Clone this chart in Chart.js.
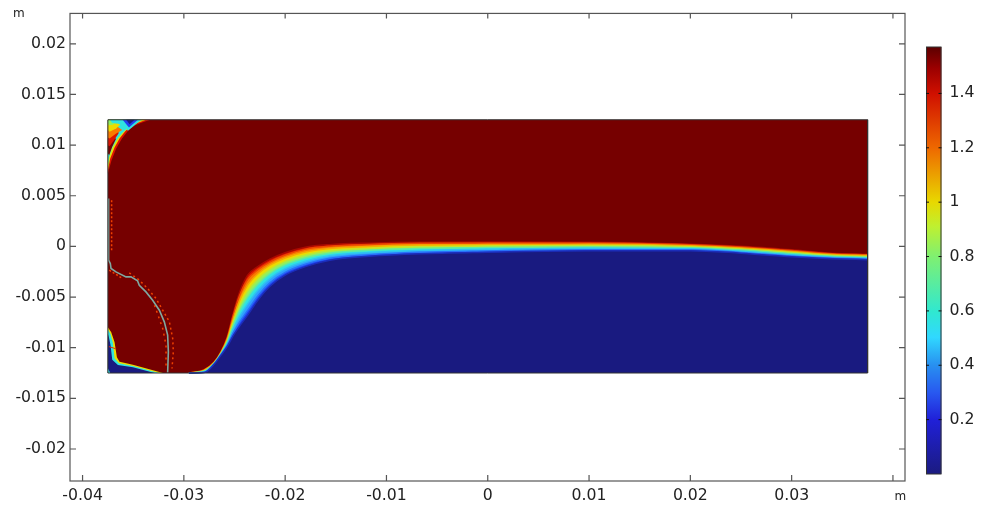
<!DOCTYPE html>
<html>
<head>
<meta charset="utf-8">
<script src="https://cdn.jsdelivr.net/npm/chart.js@4/dist/chart.umd.min.js"></script>
<style>
body { margin: 0; background: #fff; }
canvas { position: absolute; top: 0; }
</style>
</head>
<body>
<canvas id="field" width="991" height="505" style="left:0"></canvas>
<canvas id="bar" width="65" height="505" style="left:926px"></canvas>
<script>
// tick labels
const xTicks = [-0.04, -0.03, -0.02, -0.01, 0, 0.01, 0.02, 0.03, 0.04];
const xTickLabels = ['-0.04', '-0.03', '-0.02', '-0.01', '0', '0.01', '0.02', '0.03', ''];
const yTicks = [0.02, 0.015, 0.01, 0.005, 0, -0.005, -0.01, -0.015, -0.02];
const yTickLabels = ['0.02', '0.015', '0.01', '0.005', '0', '-0.005', '-0.01', '-0.015', '-0.02'];
const barTicks = [1.4, 1.2, 1, 0.8, 0.6, 0.4, 0.2];
const barTickLabels = ['1.4', '1.2', '1', '0.8', '0.6', '0.4', '0.2'];
const barMax = 1.5708;

// everything below is in mm
const domainX = [-37.5, 37.5, 37.5, -37.5, -37.5];
const domainY = [12.5, 12.5, -12.5, -12.5, 12.5];

// interface, one curve per colour level
const frontX = [-29.5, -28, -27, -26.3, -25.7, -25.1, -24.5, -23.7, -22.7, -21.5, -20, -18, -15.6, -11.7, -6.7, 0, 10, 20, 25, 30, 34, 37.5];
const frontDarkRed = [-12.5, -12.16, -11.42, -10.34, -8.86, -6.49, -4.52, -2.84, -2, -1.26, -0.62, -0.08, 0.17, 0.32, 0.41, 0.43, 0.41, 0.22, 0.02, -0.33, -0.67, -0.77];
const frontRed = [-12.5, -12.19, -11.44, -10.37, -8.96, -6.72, -4.86, -3.24, -2.3, -1.53, -0.85, -0.27, 0.02, 0.19, 0.3, 0.33, 0.33, 0.16, -0.05, -0.4, -0.72, -0.82];
const frontOrange = [-12.5, -12.24, -11.47, -10.43, -9.11, -7.06, -5.36, -3.83, -2.72, -1.85, -1.14, -0.56, -0.21, 0, 0.13, 0.18, 0.2, 0.06, -0.15, -0.5, -0.81, -0.91];
const frontYellow = [-12.5, -12.28, -11.5, -10.48, -9.26, -7.4, -5.86, -4.42, -3.23, -2.27, -1.48, -0.85, -0.44, -0.2, -0.04, 0.03, 0.08, -0.04, -0.26, -0.61, -0.89, -0.99];
const frontGreen = [-12.5, -12.33, -11.53, -10.53, -9.4, -7.74, -6.36, -5.01, -3.75, -2.68, -1.82, -1.14, -0.67, -0.39, -0.21, -0.12, -0.05, -0.13, -0.36, -0.71, -0.97, -1.07];
const frontCyan = [-12.5, -12.38, -11.56, -10.58, -9.57, -8.12, -6.93, -5.68, -4.34, -3.15, -2.2, -1.46, -0.93, -0.61, -0.4, -0.29, -0.19, -0.24, -0.48, -0.83, -1.06, -1.16];
const frontBlue = [-12.5, -12.42, -11.6, -10.64, -9.73, -8.49, -7.47, -6.32, -4.89, -3.6, -2.57, -1.77, -1.18, -0.82, -0.58, -0.45, -0.32, -0.34, -0.59, -0.94, -1.15, -1.25];
const frontNavy = [-12.5, -12.46, -11.62, -10.68, -9.85, -8.76, -7.87, -6.79, -5.31, -3.93, -2.84, -2, -1.36, -0.97, -0.72, -0.57, -0.42, -0.42, -0.67, -1.02, -1.21, -1.31];

// top left corner
const arcRedX = [-33.31, -34.2, -34.86, -35.45, -36.11, -36.68, -37.14, -37.5, -37.5];
const arcRedY = [12.5, 12.2, 11.94, 11.48, 10.65, 9.66, 8.51, 7.19, 12.5];
const arcYellowX = [-33.71, -34.53, -35.19, -35.75, -36.35, -36.84, -37.27, -37.5, -37.5];
const arcYellowY = [12.5, 12.2, 11.87, 11.41, 10.65, 9.76, 8.67, 7.52, 12.5];
const arcGreenX = [-34.04, -34.86, -35.42, -35.95, -36.51, -37, -37.34, -37.5, -37.5];
const arcGreenY = [12.5, 12.14, 11.74, 11.28, 10.65, 9.76, 8.84, 7.85, 12.5];
const arcCyanX = [-34.3, -35.03, -35.62, -36.15, -36.68, -37.14, -37.43, -37.5, -37.5];
const arcCyanY = [12.5, 12.14, 11.64, 11.15, 10.49, 9.66, 8.67, 8.18, 12.5];
const wedgeDarkX = [-36.68, -37.07, -37.37, -37.5, -37.5];
const wedgeDarkY = [10.65, 9.83, 9, 9.17, 10.65];
const wedgeRedX = [-36.41, -36.84, -37.34, -37.5, -37.5, -37];
const wedgeRedY = [11.21, 10.55, 9.89, 9.99, 11.48, 11.64];
const wedgeOrangeX = [-36.08, -36.68, -37.34, -37.5, -37.5, -36.68];
const wedgeOrangeY = [11.5, 11.15, 10.65, 10.75, 11.9, 11.9];
const wedgeYellowX = [-36.28, -36.68, -37.34, -37.5, -37.5, -36.9];
const wedgeYellowY = [12, 11.64, 11.31, 11.48, 12.2, 12.3];
const wedgeGreenX = [-36.45, -37, -37.44, -37.5];
const wedgeGreenY = [12.5, 12, 11.97, 12.5];
const wedgeCyanX = [-36.2, -36.6, -37.1, -37.3];
const wedgeCyanY = [12.5, 12.1, 12.2, 12.5];
const notchCyanX = [-36.35, -34.2, -35.52];
const notchCyanY = [12.5, 12.5, 11.41];
const notchBlueX = [-36.05, -34.53, -35.42];
const notchBlueY = [12.5, 12.5, 11.74];
const notchNavyX = [-35.69, -34.86, -35.36];
const notchNavyY = [12.5, 12.5, 12.07];

// bottom left pocket
const pocketYellowX = [-37.5, -37.17, -36.84, -36.61, -36.35, -35.03, -32.06, -37.5];
const pocketYellowY = [-7.98, -8.47, -9.46, -10.95, -11.38, -11.68, -12.5, -12.5];
const pocketCyanX = [-37.5, -37.24, -37, -36.84, -36.41, -35.03, -32.45, -37.5];
const pocketCyanY = [-8.21, -8.64, -9.53, -11.05, -11.54, -11.81, -12.5, -12.5];
const pocketNavyX = [-37.5, -37.4, -37.24, -37.07, -36.51, -35.03, -32.88, -37.5];
const pocketNavyY = [-8.64, -8.97, -9.73, -11.18, -11.71, -11.94, -12.5, -12.5];
const cornerCyanX = [-37.5, -37.27, -37.5];
const cornerCyanY = [-12.04, -12.5, -12.5];
const streakX = [-37.4, -36.68];
const streakY = [-9.89, -10.12];

// thin curve with speckle either side
const curveX = [-37.43, -37.43, -37.26, -37.19, -36.7, -35.71, -35.22, -34.57, -34.4, -33.74, -33.08, -32.42, -31.93, -31.6, -31.53, -31.6];
const curveY = [4.73, -1.36, -1.69, -2.18, -2.52, -3.01, -3.01, -3.4, -3.83, -4.49, -5.31, -6.3, -7.45, -8.76, -10.41, -12.44];
const speckleTopX = [-37.13, -37.13];
const speckleTopY = [4.56, -0.37];
const speckleLowX = [-37.36, -36.05];
const speckleLowY = [-2.35, -3.17];
const speckleOuterX = [-35.39, -34.4, -33.58, -32.75, -32.09, -31.43, -31.1, -31.04, -31.17];
const speckleOuterY = [-2.61, -3.33, -4.15, -5.14, -6.29, -7.45, -9.09, -10.41, -12.05];
const speckleInnerX = [-32.9, -32.09, -31.76, -31.76];
const speckleInnerY = [-5.8, -8.1, -9.75, -12.05];

// colour scale
const barStops = [0, 0.127, 0.19, 0.255, 0.32, 0.38, 0.51, 0.58, 0.637, 0.764, 0.89, 0.95, 1];
const barColors = ['#1b1b80', '#2020d8', '#2858f0', '#2890f0', '#30d8ff', '#30e8d0', '#80f070', '#bff030', '#e8d800', '#ee6800', '#d01000', '#9c0000', '#5c0000'];

const C = { darkRed: '#760000', red: '#dc1400', orange: '#fa7a00', yellow: '#ecdc00', green: '#90f060', cyan: '#30e4e0', sky: '#2fa0ff', blue: '#2040f0', navy: '#191a80' };

const layers = [];
const xy = (xs, ys) => xs.map((v, i) => ({ x: v / 1000, y: ys[i] / 1000 }));
function shape(xs, ys, color) {
  layers.push({ data: xy(xs, ys), showLine: true, pointRadius: 0, borderWidth: 0, backgroundColor: color, fill: 'shape' });
}
function front(ys, color, edge) {
  layers.push({ data: xy(frontX, ys), showLine: true, pointRadius: 0, borderWidth: 1.5, borderColor: edge, backgroundColor: color, cubicInterpolationMode: 'monotone', fill: { value: -0.0125 } });
}
function line(xs, ys, color, width, dash) {
  layers.push({ data: xy(xs, ys), showLine: true, pointRadius: 0, borderColor: color, borderWidth: width, borderDash: dash || [], fill: false });
}

shape(domainX, domainY, C.darkRed);
front(frontDarkRed, C.red, '#a80a00');
front(frontRed, C.orange, '#ec4700');
front(frontOrange, C.yellow, '#f4ac00');
front(frontYellow, C.green, '#bee630');
front(frontGreen, C.cyan, '#60eaa0');
front(frontCyan, C.sky, '#30c2f0');
front(frontBlue, C.blue, '#2870f8');
front(frontNavy, C.navy, '#1c2db8');
shape(arcRedX, arcRedY, C.red);
shape(arcYellowX, arcYellowY, C.yellow);
shape(arcGreenX, arcGreenY, C.green);
shape(arcCyanX, arcCyanY, C.cyan);
shape(wedgeDarkX, wedgeDarkY, C.darkRed);
shape(wedgeRedX, wedgeRedY, C.red);
shape(wedgeOrangeX, wedgeOrangeY, C.orange);
shape(wedgeYellowX, wedgeYellowY, C.yellow);
shape(wedgeGreenX, wedgeGreenY, C.green);
shape(wedgeCyanX, wedgeCyanY, C.cyan);
shape(notchCyanX, notchCyanY, C.cyan);
shape(notchBlueX, notchBlueY, C.blue);
shape(notchNavyX, notchNavyY, C.navy);
shape(pocketYellowX, pocketYellowY, C.yellow);
shape(pocketCyanX, pocketCyanY, C.cyan);
shape(pocketNavyX, pocketNavyY, C.navy);
shape(cornerCyanX, cornerCyanY, C.cyan);
line(streakX, streakY, '#e03000', 1);
line(speckleTopX, speckleTopY, '#f04000', 1.5, [2, 2]);
line(speckleLowX, speckleLowY, '#f04000', 1.5, [2, 2]);
line(speckleOuterX, speckleOuterY, '#f04000', 1.5, [2, 3]);
line(speckleInnerX, speckleInnerY, '#f04000', 1.5, [2, 4]);
line(curveX, curveY, '#7fa8a0', 1.6);
line(domainX, domainY, '#333333', 1);
layers.forEach((d, i) => { d.order = layers.length - i; });

const textColor = '#222222';
const fontFamily = "'DejaVu Sans', sans-serif";
const labelSize = 15.7;

// box and inward ticks on all four sides, the two "m" unit labels
const frame = {
  id: 'frame',
  afterDraw(chart) {
    const { ctx, chartArea: a, scales } = chart;
    ctx.save();
    ctx.strokeStyle = '#555555';
    ctx.lineWidth = 1.2;
    ctx.strokeRect(a.left, a.top, a.right - a.left, a.bottom - a.top);
    ctx.beginPath();
    xTicks.forEach(v => {
      const p = scales.x.getPixelForValue(v);
      ctx.moveTo(p, a.bottom); ctx.lineTo(p, a.bottom - 6);
      ctx.moveTo(p, a.top); ctx.lineTo(p, a.top + 5);
    });
    yTicks.forEach(v => {
      const p = scales.y.getPixelForValue(v);
      ctx.moveTo(a.left, p); ctx.lineTo(a.left + 6, p);
      ctx.moveTo(a.right, p); ctx.lineTo(a.right - 6, p);
    });
    ctx.stroke();
    ctx.fillStyle = textColor;
    ctx.font = '12px ' + fontFamily;
    ctx.textBaseline = 'middle';
    ctx.fillText('m', 13, 14);
    ctx.fillText('m', 894.5, 497);
    ctx.restore();
  }
};

new Chart(document.getElementById('field'), {
  type: 'scatter',
  data: { datasets: layers },
  plugins: [frame],
  options: {
    responsive: false,
    animation: false,
    layout: { padding: { top: 13, right: 86 } },
    plugins: { legend: { display: false }, tooltip: { enabled: false } },
    scales: {
      x: {
        type: 'linear', min: -0.04124, max: 0.04119,
        grid: { display: false, drawTicks: false }, border: { display: false },
        afterBuildTicks(s) { s.ticks = xTicks.map(v => ({ value: v })); },
        afterFit(s) { s.height = 24; },
        ticks: {
          autoSkip: false, maxRotation: 0, padding: 6, color: textColor,
          font: { family: fontFamily, size: labelSize },
          callback: (v, i) => xTickLabels[i]
        }
      },
      y: {
        type: 'linear', min: -0.02316, max: 0.0230,
        grid: { display: false, drawTicks: false }, border: { display: false },
        afterBuildTicks(s) { s.ticks = yTicks.map(v => ({ value: v })); },
        afterFit(s) { s.width = 70; },
        ticks: {
          autoSkip: false, padding: 4, color: textColor,
          font: { family: fontFamily, size: labelSize },
          callback: (v, i) => yTickLabels[i]
        }
      }
    }
  }
});

// colour bar, outline and short ticks both sides
const barFrame = {
  id: 'barFrame',
  afterDraw(chart) {
    const { ctx, chartArea: a, scales } = chart;
    ctx.save();
    ctx.strokeStyle = '#333333';
    ctx.lineWidth = 1;
    ctx.strokeRect(a.left + 0.5, a.top, a.right - a.left - 1, a.bottom - a.top);
    ctx.strokeStyle = '#111111';
    ctx.beginPath();
    barTicks.forEach(v => {
      const p = scales.y.getPixelForValue(v);
      ctx.moveTo(a.left, p); ctx.lineTo(a.left + 3, p);
      ctx.moveTo(a.right, p); ctx.lineTo(a.right - 3, p);
    });
    ctx.stroke();
    ctx.restore();
  }
};

new Chart(document.getElementById('bar'), {
  type: 'bar',
  data: {
    labels: [''],
    datasets: [{
      data: [[0, barMax]],
      barPercentage: 1,
      categoryPercentage: 1,
      backgroundColor(ctx) {
        const a = ctx.chart.chartArea;
        if (!a) return barColors[0];
        const g = ctx.chart.ctx.createLinearGradient(0, a.bottom, 0, a.top);
        barStops.forEach((s, i) => g.addColorStop(s, barColors[i]));
        return g;
      }
    }]
  },
  plugins: [barFrame],
  options: {
    responsive: false,
    animation: false,
    layout: { padding: { top: 47, bottom: 31 } },
    plugins: { legend: { display: false }, tooltip: { enabled: false } },
    scales: {
      x: { display: false },
      y: {
        position: 'right', min: 0, max: barMax,
        grid: { display: false, drawTicks: false }, border: { display: false },
        afterBuildTicks(s) { s.ticks = barTicks.map(v => ({ value: v })); },
        afterFit(s) { s.width = 49.5; },
        ticks: {
          autoSkip: false, padding: 8, color: textColor,
          font: { family: fontFamily, size: labelSize },
          callback: (v, i) => barTickLabels[i]
        }
      }
    }
  }
});
</script>
</body>
</html>
